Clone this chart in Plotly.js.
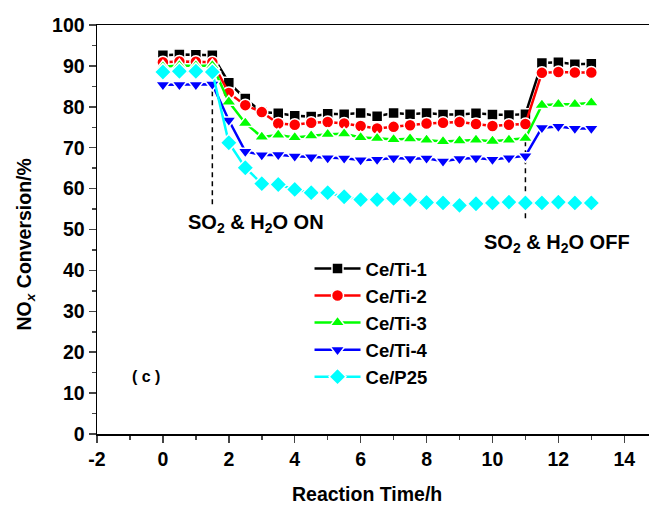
<!DOCTYPE html>
<html>
<head>
<meta charset="utf-8">
<script src="https://cdn.plot.ly/plotly-3.0.1.min.js"></script>
<style>html,body{margin:0;padding:0;background:#fff;overflow:hidden}#chart{width:649px;height:506px}</style>
</head>
<body>
<div id="chart"></div>
<script>
const time = [0,0.5,1,1.5,2,2.5,3,3.5,4,4.5,5,5.5,6,6.5,7,7.5,8,8.5,9,9.5,10,10.5,11,11.5,12,12.5,13];
const ceTi1 = [92.6,92.8,92.7,92.6,85.9,82.0,78.7,78.4,77.8,77.6,78.3,78.2,78.5,77.7,78.5,78.2,78.5,78.1,78.1,78.4,78.1,78.0,78.2,90.7,90.9,90.4,90.5];
const ceTi2 = [90.9,91.1,91.0,90.9,83.4,80.4,78.7,75.9,75.6,76.1,76.3,75.9,75.3,74.7,75.1,75.5,75.9,76.1,76.3,75.8,75.3,75.6,75.8,88.3,88.5,88.4,88.4];
const ceTi3 = [89.8,90.1,90.0,90.1,81.2,76.0,72.6,73.1,72.5,72.9,73.3,73.4,72.5,72.3,72.0,72.2,71.9,71.5,71.7,71.9,71.6,71.9,72.3,80.4,80.6,80.6,81.0];
const ceTi4 = [85.4,85.4,85.4,85.5,76.7,69.1,68.2,68.3,67.9,67.7,67.5,67.4,67.0,67.1,67.5,67.3,67.4,66.7,67.3,67.5,67.1,67.5,68.0,74.9,75.2,74.7,74.7];
const ceP25 = [88.5,88.7,88.7,88.5,71.2,65.1,61.2,61.0,59.8,59.0,59.0,58.0,57.3,57.3,57.6,57.3,56.6,56.5,55.9,56.3,56.5,56.7,56.5,56.5,56.7,56.5,56.5];
const names = ['Ce/Ti-1','Ce/Ti-2','Ce/Ti-3','Ce/Ti-4','Ce/P25'];
const xTicks = [-2,0,2,4,6,8,10,12,14];
const xTickText = ['-2','0','2','4','6','8','10','12','14'];
const switchOn = 1.5, switchOff = 11;

const FONT = 'Liberation Sans, Arial, sans-serif';
const styles = [
  {color:'#000000', symbol:'square', size:11},
  {color:'#FF0000', symbol:'circle', size:12},
  {color:'#00FF00', symbol:'triangle-up', size:13},
  {color:'#0000FF', symbol:'triangle-down', size:13},
  {color:'#00FFFF', symbol:'diamond', size:13}
];
const series = [ceTi1, ceTi2, ceTi3, ceTi4, ceP25];
const traces = series.map((ys, i) => ({
  type:'scatter', mode:'lines+markers', x: time, y: ys, name: names[i],
  line:{color: styles[i].color, width:2.5},
  marker:{color: styles[i].color, symbol: styles[i].symbol, size: styles[i].size,
          line:{color:'#ffffff', width:1.5}}
}));

const layout = {
  width:649, height:506,
  margin:{l:97, r:0, t:25, b:72, pad:0},
  paper_bgcolor:'#fff', plot_bgcolor:'#fff',
  showlegend:true,
  font:{family:FONT, size:19, color:'#000'},
  xaxis:{range:[-2,14.75], tickvals:xTicks, ticktext:xTickText, ticks:'outside', ticklen:7, tickwidth:1.5,
         showline:true, linewidth:1.5, linecolor:'#000', mirror:true, showgrid:false, zeroline:false,
         tickfont:{family:FONT, size:19.5, weight:'bold'},
         minor:{tickvals:[-1,1,3,5,7,9,11,13], ticks:'outside', ticklen:4, tickwidth:1.5}},
  yaxis:{range:[0,100], dtick:10, ticks:'outside', ticklen:7, tickwidth:1.5,
         showline:true, linewidth:1.5, linecolor:'#000', mirror:false, showgrid:false, zeroline:false,
         tickfont:{family:FONT, size:19.5, weight:'bold'},
         minor:{dtick:5, ticks:'outside', ticklen:4, tickwidth:1.5}},
  legend:{x:0.385, y:0.45, xanchor:'left', yanchor:'top', bgcolor:'rgba(0,0,0,0)', borderwidth:0,
          font:{family:FONT, size:18.5, weight:'bold'}, itemwidth:46, tracegroupgap:0},
  shapes:[
    {type:'line', xref:'x', yref:'y', x0:switchOn, x1:switchOn, y0:92.6, y1:56, line:{color:'#000', width:1.5, dash:'5px,4px'}, layer:'below'},
    {type:'line', xref:'x', yref:'y', x0:switchOff, x1:switchOff, y0:78.2, y1:52.2, line:{color:'#000', width:1.5, dash:'5px,4px'}, layer:'below'}
  ],
  annotations:[
    {xref:'paper', yref:'paper', x:0.288, y:0.515, text:'SO<sub>2</sub> &amp; H<sub>2</sub>O ON', showarrow:false,
     font:{family:FONT, size:20, weight:'bold'}, xanchor:'center', yanchor:'middle'},
    {xref:'paper', yref:'paper', x:0.834, y:0.466, text:'SO<sub>2</sub> &amp; H<sub>2</sub>O OFF', showarrow:false,
     font:{family:FONT, size:20, weight:'bold'}, xanchor:'center', yanchor:'middle'},
    {xref:'paper', yref:'paper', x:0.089, y:0.14, text:'( c )', showarrow:false,
     font:{family:FONT, size:16, weight:'bold'}, xanchor:'center', yanchor:'middle'},
    {xref:'paper', yref:'paper', x:0.49, y:-0.147, text:'Reaction Time/h', showarrow:false,
     font:{family:FONT, size:19.5, weight:'bold'}, xanchor:'center', yanchor:'middle'},
    {xref:'paper', yref:'paper', x:-0.13, y:0.464, text:'NO<sub><i>x</i></sub> Conversion/%', showarrow:false, textangle:-90,
     font:{family:FONT, size:19.5, weight:'bold'}, xanchor:'center', yanchor:'middle'}
  ]
};
Plotly.newPlot('chart', traces, layout, {displayModeBar:false, staticPlot:true});
</script>
</body>
</html>
